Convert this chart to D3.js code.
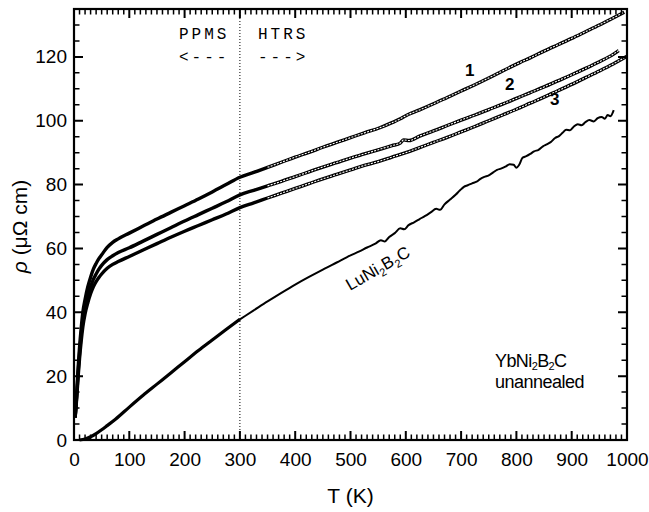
<!DOCTYPE html>
<html lang="en">
<head>
<meta charset="UTF-8">
<title>YbNi2B2C resistivity</title>
<script src="https://cdnjs.cloudflare.com/ajax/libs/d3/7.8.5/d3.min.js"></script>
<style>
    body { margin: 0; background: #fff; }
    svg { display: block; }
    text { font-family: Arial, "Liberation Sans", sans-serif; fill: #000; }
    .mono { font-family: "Courier New", "Liberation Mono", monospace; }
</style>
</head>
<body>
<div id="chart"></div>
<script>
    // tick labels
    const xTicks = [0, 100, 200, 300, 400, 500, 600, 700, 800, 900, 1000];
    const yTicks = [0, 20, 40, 60, 80, 100, 120];

    // [T (K), rho (uOhm cm)]
    const sample1 = [[2,7],[4,12],[6,18],[8,24],[10,29],[13,35],[16,40],[20,44],[25,48],[30,51],[35,53.5],[40,55.3],[45,56.8],[50,58],[60,60.3],[70,61.9],[80,63],[100,64.8],[125,67],[150,69.2],[175,71.3],[200,73.4],[225,75.5],[250,77.7],[275,80],[300,82.3],[325,83.8],[350,85.4],[375,87],[400,88.6],[425,90.1],[450,91.7],[475,93.2],[500,94.7],[525,96.2],[553,97.8],[575,99.4],[590,100.6],[600,101.6],[625,103.4],[650,105.3],[675,107.3],[700,109.3],[725,111.3],[750,113.4],[775,115.6],[806,118.2],[825,119.7],[850,121.8],[875,123.8],[900,125.8],[925,127.9],[950,130],[975,132.2],[995,134]];
    const sample2 = [[2,7],[4,11.5],[6,17],[8,22.5],[10,27],[13,33],[16,37.5],[20,41.5],[25,45],[30,48],[35,50.3],[40,52],[45,53.5],[50,54.7],[60,56.5],[70,57.7],[80,58.7],[100,60.2],[125,62.3],[150,64.4],[175,66.5],[200,68.6],[225,70.6],[250,72.6],[275,74.6],[300,76.8],[325,78.2],[350,79.6],[375,81],[400,82.5],[425,84],[450,85.5],[475,86.9],[500,88.3],[525,89.6],[550,90.9],[575,92.2],[590,93],[596,94],[606,93.8],[625,95.2],[650,96.8],[675,98.5],[700,100.2],[725,101.8],[750,103.5],[775,105.2],[800,107],[825,108.8],[850,110.6],[875,112.5],[900,114.4],[925,116.4],[950,118.5],[975,120.8],[985,122]];
    const sample3 = [[2,7],[4,11],[6,16],[8,21],[10,25.5],[13,31],[16,35.5],[20,39.5],[25,43],[30,45.8],[35,48],[40,49.6],[45,50.9],[50,52],[60,53.8],[70,55],[80,55.9],[100,57.5],[125,59.5],[150,61.5],[175,63.5],[200,65.4],[225,67.2],[250,69],[275,70.8],[300,72.8],[325,74.3],[350,75.8],[375,77.3],[400,78.8],[425,80.3],[450,81.8],[475,83.2],[500,84.6],[525,86],[550,87.2],[575,88.6],[600,90],[625,91.6],[650,93.2],[675,94.8],[700,96.5],[725,98.2],[750,100],[775,101.8],[800,103.6],[825,105.5],[850,107.4],[875,109.4],[900,111.4],[925,113.5],[950,115.6],[975,117.8],[1000,120.2]];
    const luni = [[10,0],[20,0.3],[30,1],[40,2],[50,3.2],[60,4.5],[75,6.5],[100,10.3],[125,14],[150,17.5],[175,21],[200,24.5],[225,28],[250,31.3],[275,34.6],[300,37.8],[325,40.6],[350,43.4],[375,46.1],[400,48.7],[425,51.1],[450,53.4],[475,55.6],[500,57.8],[515,59],[530,60.3],[545,61.5],[555,62.6],[562,62.2],[570,63.6],[580,64.8],[590,66.3],[597,66],[605,67.3],[615,68.2],[625,69.2],[635,70.2],[645,71.3],[655,72.4],[662,72.1],[670,73.8],[680,75.3],[690,76.8],[698,78.2],[705,79.3],[712,79.8],[720,80.4],[728,80.9],[735,81.8],[742,82.4],[750,82.9],[758,83.8],[765,84.6],[772,85],[780,85.6],[788,86.4],[795,86.2],[800,85.3],[805,86.2],[811,88.4],[818,88.9],[825,89.6],[832,90.4],[840,90.9],[848,92],[855,92.6],[862,93.3],[870,94.6],[877,95.2],[884,96.3],[890,97.2],[897,97],[904,98.2],[911,98.9],[918,98.6],[925,99.6],[932,100.2],[940,99.8],[947,100.8],[954,101.2],[960,100.6],[965,101.8],[970,101.4],[976,103.3]];

    const sampleLabels = [["1", 465, 76], ["2", 505, 90], ["3", 550, 105]];

    const W = 649, H = 512;
    const margin = { top: 9, right: 22, bottom: 72, left: 74 };
    const iw = W - margin.left - margin.right;
    const ih = H - margin.top - margin.bottom;

    const x = d3.scaleLinear().domain([0, 1000]).range([0, iw]);
    const y = d3.scaleLinear().domain([0, 135]).range([ih, 0]);

    const svg = d3.select("#chart").append("svg")
        .attr("width", W).attr("height", H);
    const g = svg.append("g").attr("transform", `translate(${margin.left},${margin.top})`);

    const line = d3.line().x(d => x(d[0])).y(d => y(d[1])).curve(d3.curveMonotoneX);

    // PPMS / HTRS divider
    g.append("line")
        .attr("x1", x(300)).attr("x2", x(300))
        .attr("y1", 0).attr("y2", ih)
        .attr("stroke", "#000").attr("stroke-width", 1)
        .attr("stroke-dasharray", "1,2");

    // samples 1-3 : dense open symbols -> thick black line with a broken white core
    [sample1, sample2, sample3].forEach(s => {
        g.append("path").datum(s)
            .attr("d", line)
            .attr("fill", "none").attr("stroke", "#000").attr("stroke-width", 3.4);
        g.append("path").datum(s.filter(d => d[0] >= 330))
            .attr("d", line)
            .attr("fill", "none").attr("stroke", "#fff").attr("stroke-width", 1.1)
            .attr("stroke-dasharray", "2,1.3");
    });

    // LuNi2B2C
    g.append("path").datum(luni.filter(d => d[0] <= 300))
        .attr("d", line)
        .attr("fill", "none").attr("stroke", "#000").attr("stroke-width", 3.2);
    g.append("path").datum(luni.filter(d => d[0] >= 300))
        .attr("d", line)
        .attr("fill", "none").attr("stroke", "#000").attr("stroke-width", 2)
        .attr("stroke-linejoin", "round");

    // tick labels via d3 axes
    const xa = g.append("g").attr("transform", `translate(0,${ih})`)
        .call(d3.axisBottom(x).tickValues(xTicks).tickSize(0).tickPadding(13).tickFormat(d3.format("d")));
    const ya = g.append("g")
        .call(d3.axisLeft(y).tickValues(yTicks).tickSize(0).tickPadding(7).tickFormat(d3.format("d")));
    [xa, ya].forEach(a => {
        a.select(".domain").remove();
        a.selectAll(".tick text").attr("font-size", 19)
            .attr("font-family", "Arial, 'Liberation Sans', sans-serif");
    });

    // tick marks, pointing inward on all four sides
    const xMinor = d3.range(0, 1001, 10).filter(v => v % 100);
    const yMinor = d3.range(0, 136, 5).filter(v => v % 20);

    function xMarks(values, len) {
        return values.map(v => `M${x(v)},${ih}V${ih - len}M${x(v)},0V${len}`).join("");
    }
    function yMarks(values, len) {
        return values.map(v => `M0,${y(v)}H${len}M${iw},${y(v)}H${iw - len}`).join("");
    }
    g.append("path")
        .attr("d", xMarks(xTicks, 9) + yMarks(yTicks, 9))
        .attr("fill", "none").attr("stroke", "#000").attr("stroke-width", 2);
    g.append("path")
        .attr("d", xMarks(xMinor, 5.5) + yMarks(yMinor, 5.5))
        .attr("fill", "none").attr("stroke", "#000").attr("stroke-width", 1.5);

    g.append("rect")
        .attr("width", iw).attr("height", ih)
        .attr("fill", "none").attr("stroke", "#000").attr("stroke-width", 2.2);

    // annotations
    const mono = g.append("g").attr("font-size", 16).style("letter-spacing", "3px");
    mono.append("text").attr("class", "mono").attr("x", 179 - margin.left).attr("y", 39 - margin.top).text("PPMS");
    mono.append("text").attr("class", "mono").attr("x", 179 - margin.left).attr("y", 62 - margin.top).text("<---");
    mono.append("text").attr("class", "mono").attr("x", 258 - margin.left).attr("y", 39 - margin.top).text("HTRS");
    mono.append("text").attr("class", "mono").attr("x", 258 - margin.left).attr("y", 62 - margin.top).text("--->");

    sampleLabels.forEach(([t, lx, ly]) => {
        svg.append("text").attr("x", lx).attr("y", ly)
            .attr("font-size", 17).attr("font-weight", "bold").text(t);
    });

    const lu = svg.append("text")
        .attr("transform", "translate(350,291) rotate(-30)")
        .attr("font-size", 17);
    lu.append("tspan").text("LuNi");
    lu.append("tspan").attr("font-size", 11).attr("dy", 4).text("2");
    lu.append("tspan").attr("dy", -4).text("B");
    lu.append("tspan").attr("font-size", 11).attr("dy", 4).text("2");
    lu.append("tspan").attr("dy", -4).text("C");

    const yb = svg.append("text").attr("x", 495).attr("y", 367).attr("font-size", 18)
        .style("letter-spacing", "-0.6px");
    yb.append("tspan").text("YbNi");
    yb.append("tspan").attr("font-size", 11).attr("dy", 3).text("2");
    yb.append("tspan").attr("dy", -3).text("B");
    yb.append("tspan").attr("font-size", 11).attr("dy", 3).text("2");
    yb.append("tspan").attr("dy", -3).text("C");
    svg.append("text").attr("x", 495).attr("y", 388).attr("font-size", 18)
        .style("letter-spacing", "-0.5px").text("unannealed");

    // axis titles
    svg.append("text").attr("x", margin.left + iw / 2).attr("y", 503)
        .attr("text-anchor", "middle").attr("font-size", 21).text("T (K)");
    const yl = svg.append("text")
        .attr("transform", `translate(27,${margin.top + ih / 2 + 2}) rotate(-90)`)
        .attr("text-anchor", "middle").attr("font-size", 21);
    yl.append("tspan").attr("font-style", "italic").text("ρ");
    yl.append("tspan").text(" (μΩ cm)");
</script>
</body>
</html>
